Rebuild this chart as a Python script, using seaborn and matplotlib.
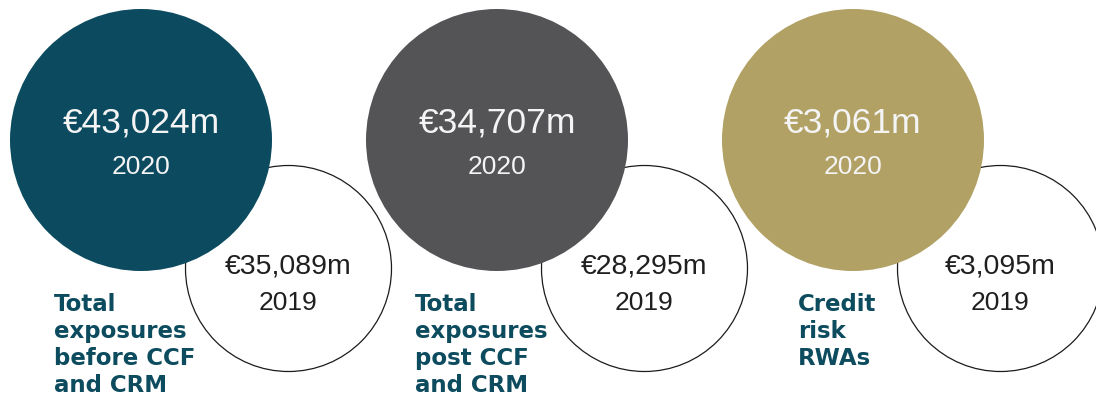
import numpy as np
import pandas as pd
import seaborn as sns
import matplotlib.pyplot as plt

# values
METRICS = ['Total\nexposures\nbefore CCF\nand CRM',
           'Total\nexposures\npost CCF\nand CRM',
           'Credit\nrisk\nRWAs']
VALUES_2020 = [43024, 34707, 3061]
VALUES_2019 = [35089, 28295, 3095]
YEARS = ['2020', '2019']
COLOURS = ['#0b4a5f', '#545456', '#b1a165']
LABEL_COLOUR = '#0d4b5e'

sns.set_theme(style='white')
plt.rcParams['font.family'] = ['Liberation Sans', 'DejaVu Sans']

W, H, DPI = 1096, 410, 100
STEP = 356      # px between the metric groups
X0 = 141        # px, centre of the first big circle
R_BIG = 131     # px
R_SMALL = 103   # px
OFF_SMALL = 147 / STEP
Y_BIG, Y_SMALL = 141, 269


def px_to_s(r_px):
    # scatter size is the marker diameter in points, squared
    d_pt = 2 * r_px * 72 / DPI
    return d_pt ** 2


df = pd.DataFrame({'metric': METRICS, 'v2020': VALUES_2020, 'v2019': VALUES_2019})
df['pos'] = np.arange(len(df))

fig = plt.figure(figsize=(W / DPI, H / DPI), dpi=DPI)
ax = fig.add_axes([0, 0, 1, 1])

# 2019, outlined circles, drawn underneath
sns.scatterplot(x=df['pos'] + OFF_SMALL, y=np.full(len(df), Y_SMALL), s=px_to_s(R_SMALL),
                facecolor='white', edgecolor='#1c1c1c', linewidth=0.9, legend=False, ax=ax, zorder=1)
# 2020, filled circles on top
sns.scatterplot(data=df, x='pos', y=np.full(len(df), Y_BIG), hue='metric', palette=COLOURS,
                s=px_to_s(R_BIG), linewidth=0, legend=False, ax=ax, zorder=2)

for _, row in df.iterrows():
    p = row['pos']
    ax.text(p, Y_BIG - 18, f"€{row['v2020']:,}m", ha='center', va='center',
            fontsize=25.5, color='#f4f4f4', zorder=3)
    ax.text(p, Y_BIG + 26, YEARS[0], ha='center', va='center',
            fontsize=19, color='#f4f4f4', zorder=3)
    ax.text(p + OFF_SMALL, Y_SMALL - 2, f"€{row['v2019']:,}m", ha='center', va='center',
            fontsize=20.5, color='#1f1f1f', zorder=3)
    ax.text(p + OFF_SMALL, Y_SMALL + 34, YEARS[1], ha='center', va='center',
            fontsize=19, color='#1f1f1f', zorder=3)
    ax.text(p - 16 / STEP, 293, row['metric'], ha='center', va='top', multialignment='left',
            fontsize=16.5, fontweight='bold', family='DejaVu Sans', color=LABEL_COLOUR,
            linespacing=1.22, zorder=3)

ax.set_xlim(-X0 / STEP, (W - X0) / STEP)
ax.set_ylim(H, 0)
ax.set_axis_off()

fig.savefig('out.png', dpi=DPI, facecolor='white')
